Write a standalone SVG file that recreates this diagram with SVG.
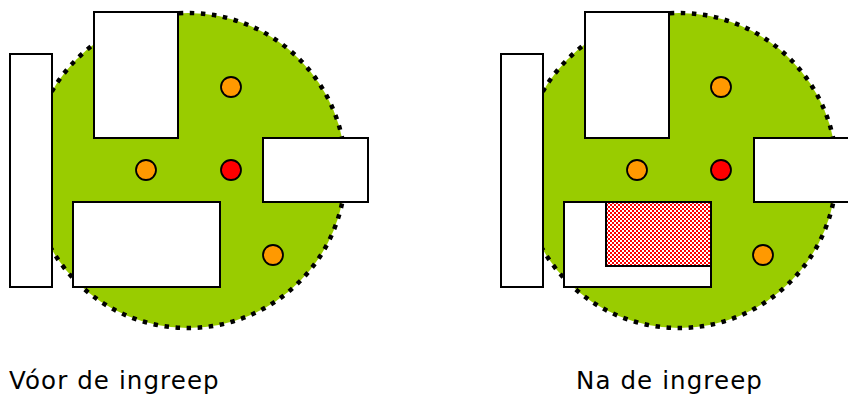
<svg xmlns="http://www.w3.org/2000/svg" width="848" height="396" viewBox="0 0 848 396">
<defs>
<style>
.disc{fill:#99CC00;stroke:#000;stroke-width:4.5;stroke-dasharray:4.5 6.6}
.box{fill:#fff;stroke:#000;stroke-width:2}
.org{fill:#FF9900;stroke:#000;stroke-width:1.8}
.red{fill:#FF0000;stroke:#000;stroke-width:1.8}
.lbl{font-family:"DejaVu Sans","Liberation Sans",sans-serif;font-size:24.5px;letter-spacing:1.1px;fill:#000}
</style>
<pattern id="check" x="0" y="0" width="4" height="4" patternUnits="userSpaceOnUse">
<rect width="4" height="4" fill="#FF0000"/>
<rect x="0" y="0" width="2" height="2" fill="#fff"/>
<rect x="2" y="2" width="2" height="2" fill="#fff"/>
</pattern>
</defs>
<rect width="848" height="396" fill="#fff"/>
<g id="before">
<g id="before-area"><circle class="disc" cx="188" cy="170.5" r="157.5"/></g>
<g id="before-left"><rect class="box" x="10" y="54" width="42" height="233"/></g>
<g id="before-top"><rect class="box" x="94" y="12" width="84" height="126"/></g>
<g id="before-right"><rect class="box" x="263" y="138" width="105" height="64"/></g>
<g id="before-bottom"><rect class="box" x="73" y="202" width="147" height="85"/></g>
<g id="before-dot1"><circle class="org" cx="231" cy="87" r="10"/></g>
<g id="before-dot2"><circle class="org" cx="146" cy="170" r="10"/></g>
<g id="before-dot3"><circle class="red" cx="231" cy="170" r="10"/></g>
<g id="before-dot4"><circle class="org" cx="273" cy="255" r="10"/></g>
</g>
<g id="after">
<g id="after-area"><circle class="disc" cx="679" cy="170.5" r="157.5"/></g>
<g id="after-left"><rect class="box" x="501" y="54" width="42" height="233"/></g>
<g id="after-top"><rect class="box" x="585" y="12" width="84" height="126"/></g>
<g id="after-right"><rect class="box" x="754" y="138" width="105" height="64"/></g>
<g id="after-bottom"><rect class="box" x="564" y="202" width="147" height="85"/></g>
<g id="after-hatch"><rect x="606" y="202" width="105" height="64" fill="url(#check)" stroke="#000" stroke-width="2"/></g>
<g id="after-dot1"><circle class="org" cx="721" cy="87" r="10"/></g>
<g id="after-dot2"><circle class="org" cx="637" cy="170" r="10"/></g>
<g id="after-dot3"><circle class="red" cx="721" cy="170" r="10"/></g>
<g id="after-dot4"><circle class="org" cx="763" cy="255" r="10"/></g>
</g>
<g id="connectors"/>
<g id="labels">
<text id="label-before" class="lbl" x="9" y="389">Vóor de ingreep</text>
<text id="label-after" class="lbl" x="576" y="389">Na de ingreep</text>
</g>
</svg>
